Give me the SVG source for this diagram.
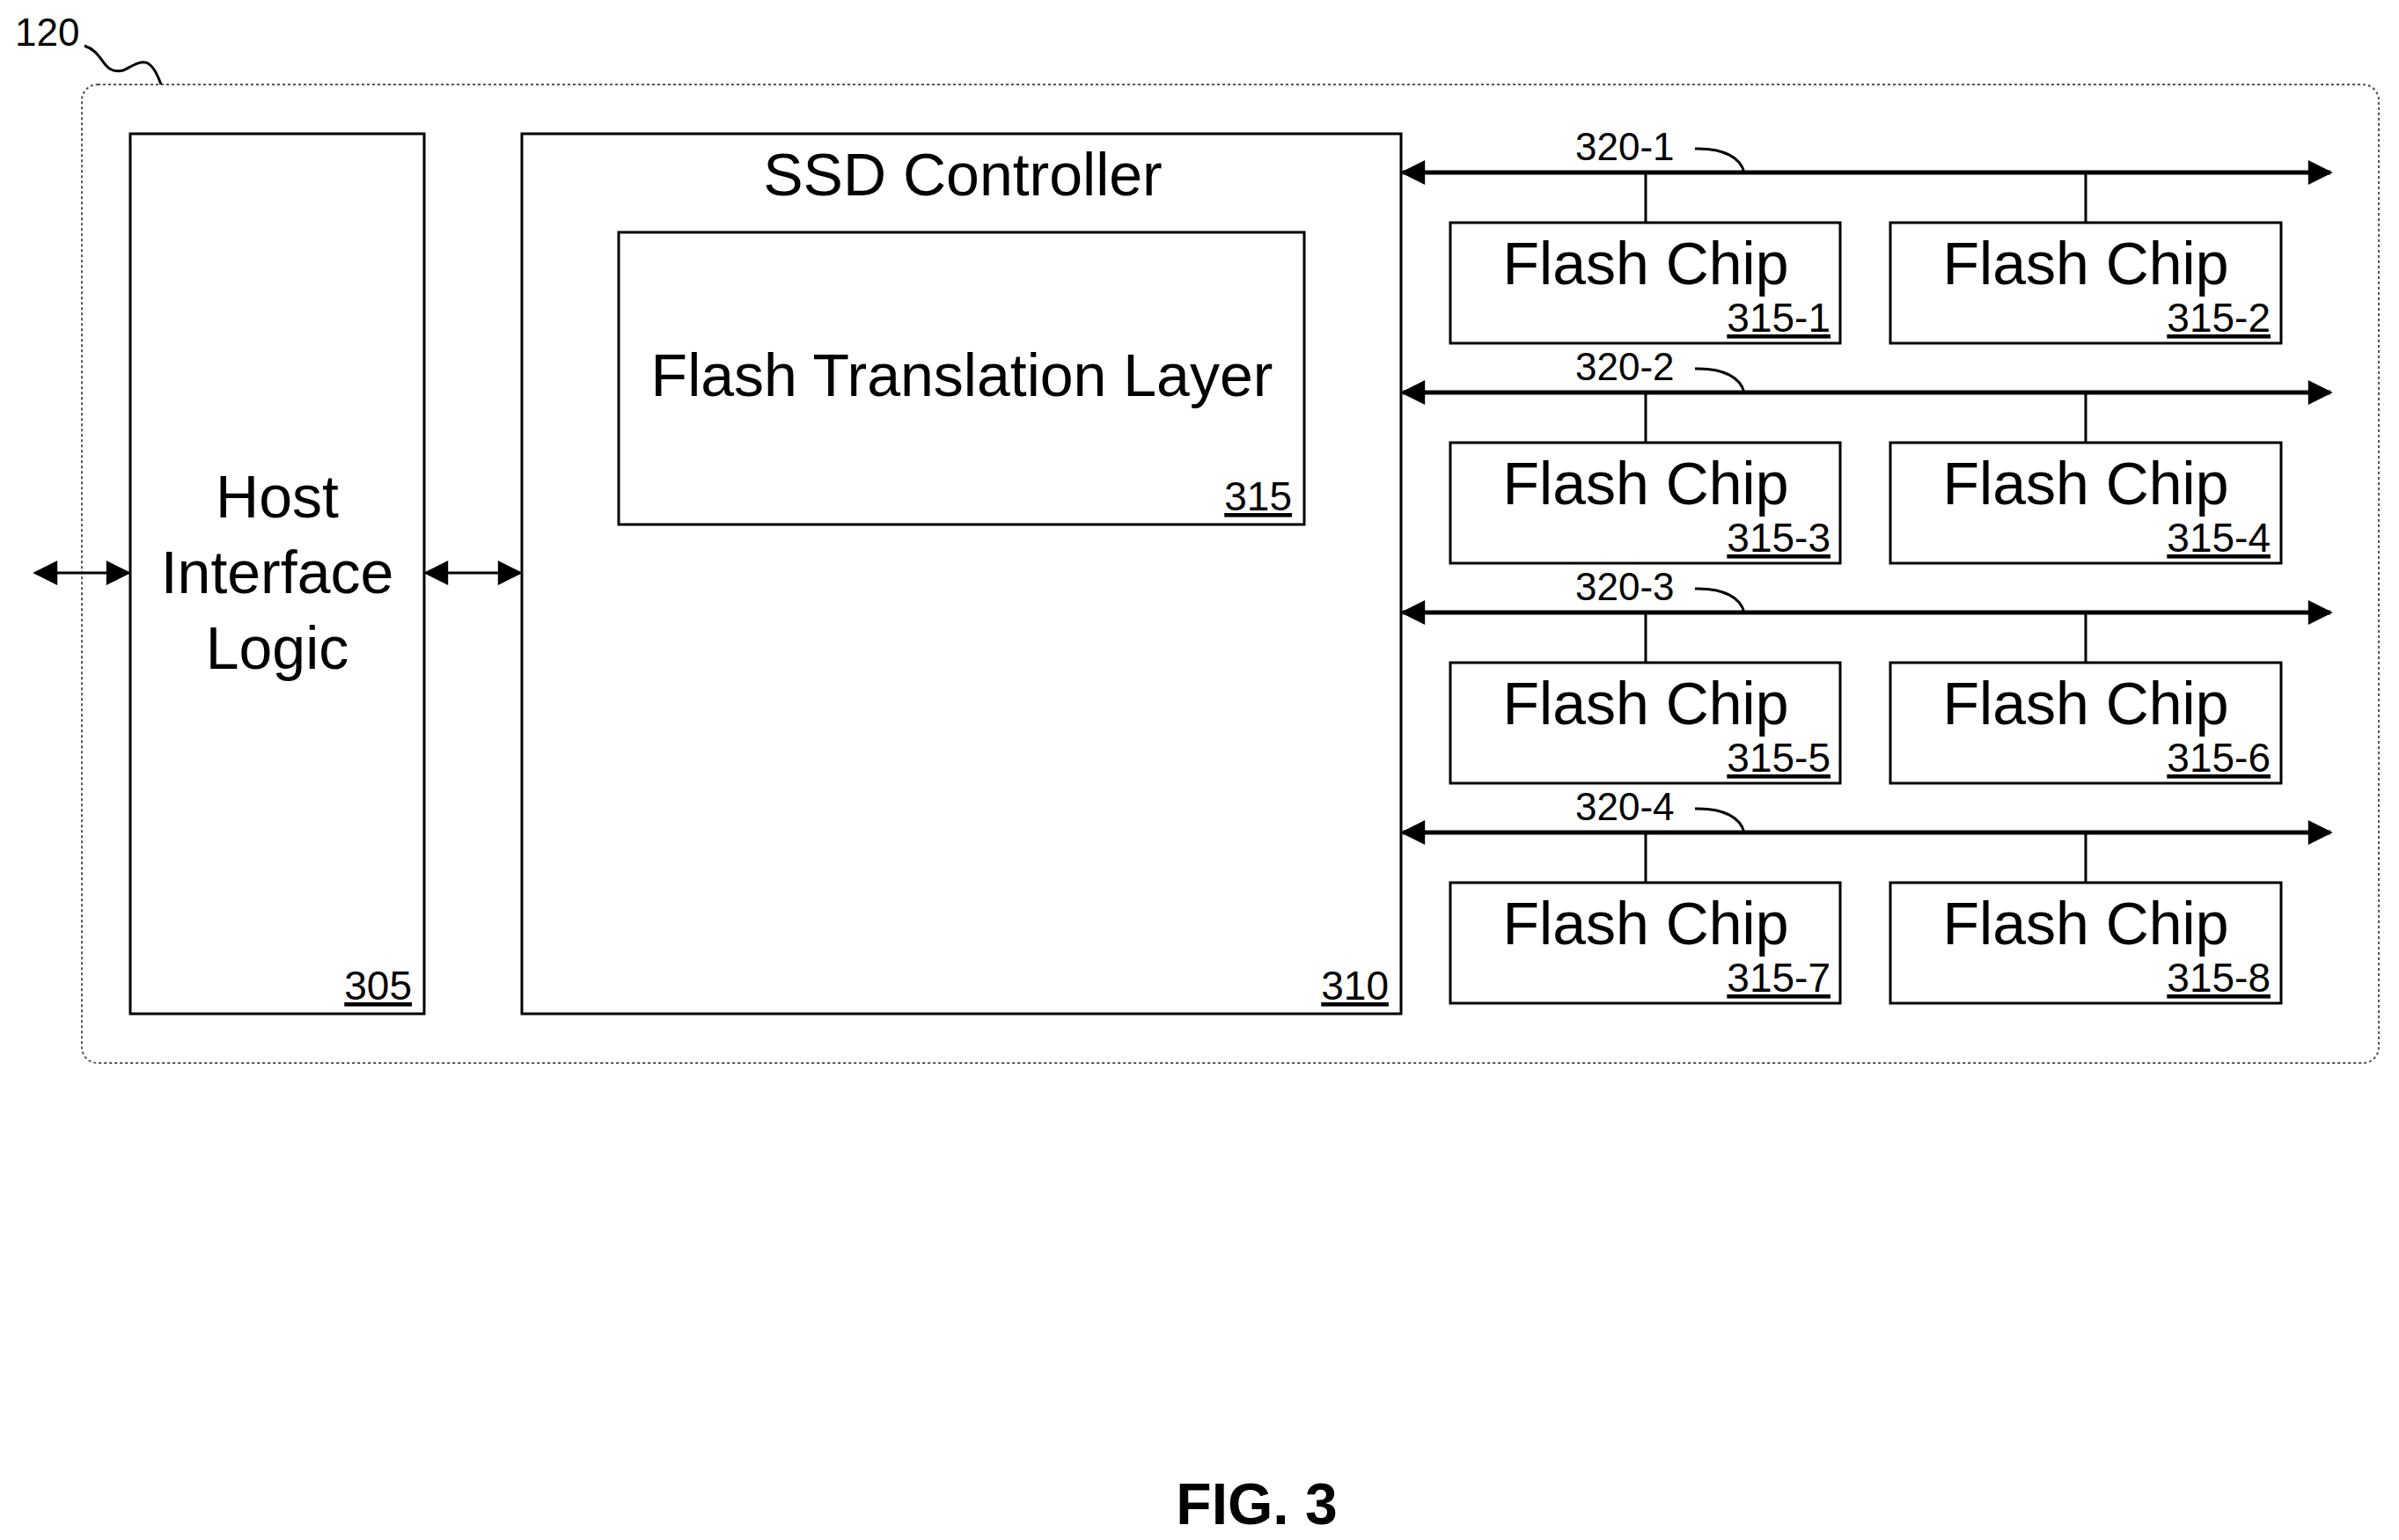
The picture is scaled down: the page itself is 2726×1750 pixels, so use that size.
<svg xmlns="http://www.w3.org/2000/svg" width="2726" height="1750" viewBox="0 0 2726 1750">
<style>
.box{fill:#fff;stroke:#000;stroke-width:3}
.t{font-family:"Liberation Sans",Arial,sans-serif;fill:#000}
.big{font-size:68px;text-anchor:middle}
.lbl{font-size:46px;text-anchor:end;text-decoration:underline}
.ref{font-size:44px}
.ln{stroke:#000;stroke-width:3;fill:none}
.bus{stroke:#000;stroke-width:5;fill:none}
</style>
<defs>
<marker id="ah" viewBox="0 0 10 10" refX="9" refY="5" markerWidth="32" markerHeight="28" markerUnits="userSpaceOnUse" orient="auto-start-reverse"><path d="M0,0 L10,5 L0,10 Z" fill="#000"/></marker>
</defs>
<g id="ssd120">
<rect x="93" y="96" width="2610" height="1112" rx="18" fill="none" stroke="#555" stroke-width="2" stroke-dasharray="3,3"/>
<text class="t ref" x="17" y="52">120</text>
<path class="ln" stroke-width="2" d="M96,52 C120,60 115,85 140,80 C160,70 170,60 183,96"/>
</g>
<g id="host">
<rect class="box" x="148" y="152" width="334" height="1000"/>
<text class="t big" x="315" y="588">Host</text>
<text class="t big" x="315" y="674">Interface</text>
<text class="t big" x="315" y="760">Logic</text>
<text class="t lbl" x="468" y="1136">305</text>
</g>
<g id="ctrl">
<rect class="box" x="593" y="152" width="999" height="1000"/>
<text class="t big" x="1094" y="222">SSD Controller</text>
<text class="t lbl" x="1578" y="1136">310</text>
</g>
<g id="ftl">
<rect class="box" x="703" y="264" width="779" height="332"/>
<text class="t big" x="1093" y="450">Flash Translation Layer</text>
<text class="t lbl" x="1468" y="580">315</text>
</g>
<g id="chip1"><rect class="box" x="1648" y="253" width="443" height="137"/><text class="t big" x="1870" y="323">Flash Chip</text><text class="t lbl" x="2080" y="377">315-1</text></g>
<g id="chip2"><rect class="box" x="2148" y="253" width="444" height="137"/><text class="t big" x="2370" y="323">Flash Chip</text><text class="t lbl" x="2580" y="377">315-2</text></g>
<g id="chip3"><rect class="box" x="1648" y="503" width="443" height="137"/><text class="t big" x="1870" y="573">Flash Chip</text><text class="t lbl" x="2080" y="627">315-3</text></g>
<g id="chip4"><rect class="box" x="2148" y="503" width="444" height="137"/><text class="t big" x="2370" y="573">Flash Chip</text><text class="t lbl" x="2580" y="627">315-4</text></g>
<g id="chip5"><rect class="box" x="1648" y="753" width="443" height="137"/><text class="t big" x="1870" y="823">Flash Chip</text><text class="t lbl" x="2080" y="877">315-5</text></g>
<g id="chip6"><rect class="box" x="2148" y="753" width="444" height="137"/><text class="t big" x="2370" y="823">Flash Chip</text><text class="t lbl" x="2580" y="877">315-6</text></g>
<g id="chip7"><rect class="box" x="1648" y="1003" width="443" height="137"/><text class="t big" x="1870" y="1073">Flash Chip</text><text class="t lbl" x="2080" y="1127">315-7</text></g>
<g id="chip8"><rect class="box" x="2148" y="1003" width="444" height="137"/><text class="t big" x="2370" y="1073">Flash Chip</text><text class="t lbl" x="2580" y="1127">315-8</text></g>
<g id="connectors">
<line class="ln" x1="40" y1="651" x2="146" y2="651" marker-start="url(#ah)" marker-end="url(#ah)"/>
<line class="ln" x1="484" y1="651" x2="591" y2="651" marker-start="url(#ah)" marker-end="url(#ah)"/>
<line class="bus" x1="1594" y1="196" x2="2648" y2="196" marker-start="url(#ah)" marker-end="url(#ah)"/>
<line class="bus" x1="1594" y1="446" x2="2648" y2="446" marker-start="url(#ah)" marker-end="url(#ah)"/>
<line class="bus" x1="1594" y1="696" x2="2648" y2="696" marker-start="url(#ah)" marker-end="url(#ah)"/>
<line class="bus" x1="1594" y1="946" x2="2648" y2="946" marker-start="url(#ah)" marker-end="url(#ah)"/>
<path class="ln" d="M1870,196V253M2370,196V253M1870,446V503M2370,446V503M1870,696V753M2370,696V753M1870,946V1003M2370,946V1003"/>
<path class="ln" stroke-width="2" d="M1926,169 C1960,168 1978,180 1982,196M1926,419 C1960,418 1978,430 1982,446M1926,669 C1960,668 1978,680 1982,696M1926,919 C1960,918 1978,930 1982,946"/>
</g>
<text class="t ref" x="1790" y="182">320-1</text>
<text class="t ref" x="1790" y="432">320-2</text>
<text class="t ref" x="1790" y="682">320-3</text>
<text class="t ref" x="1790" y="932">320-4</text>
<text class="t" x="1428" y="1732" font-size="66" font-weight="bold" text-anchor="middle">FIG. 3</text>
</svg>
